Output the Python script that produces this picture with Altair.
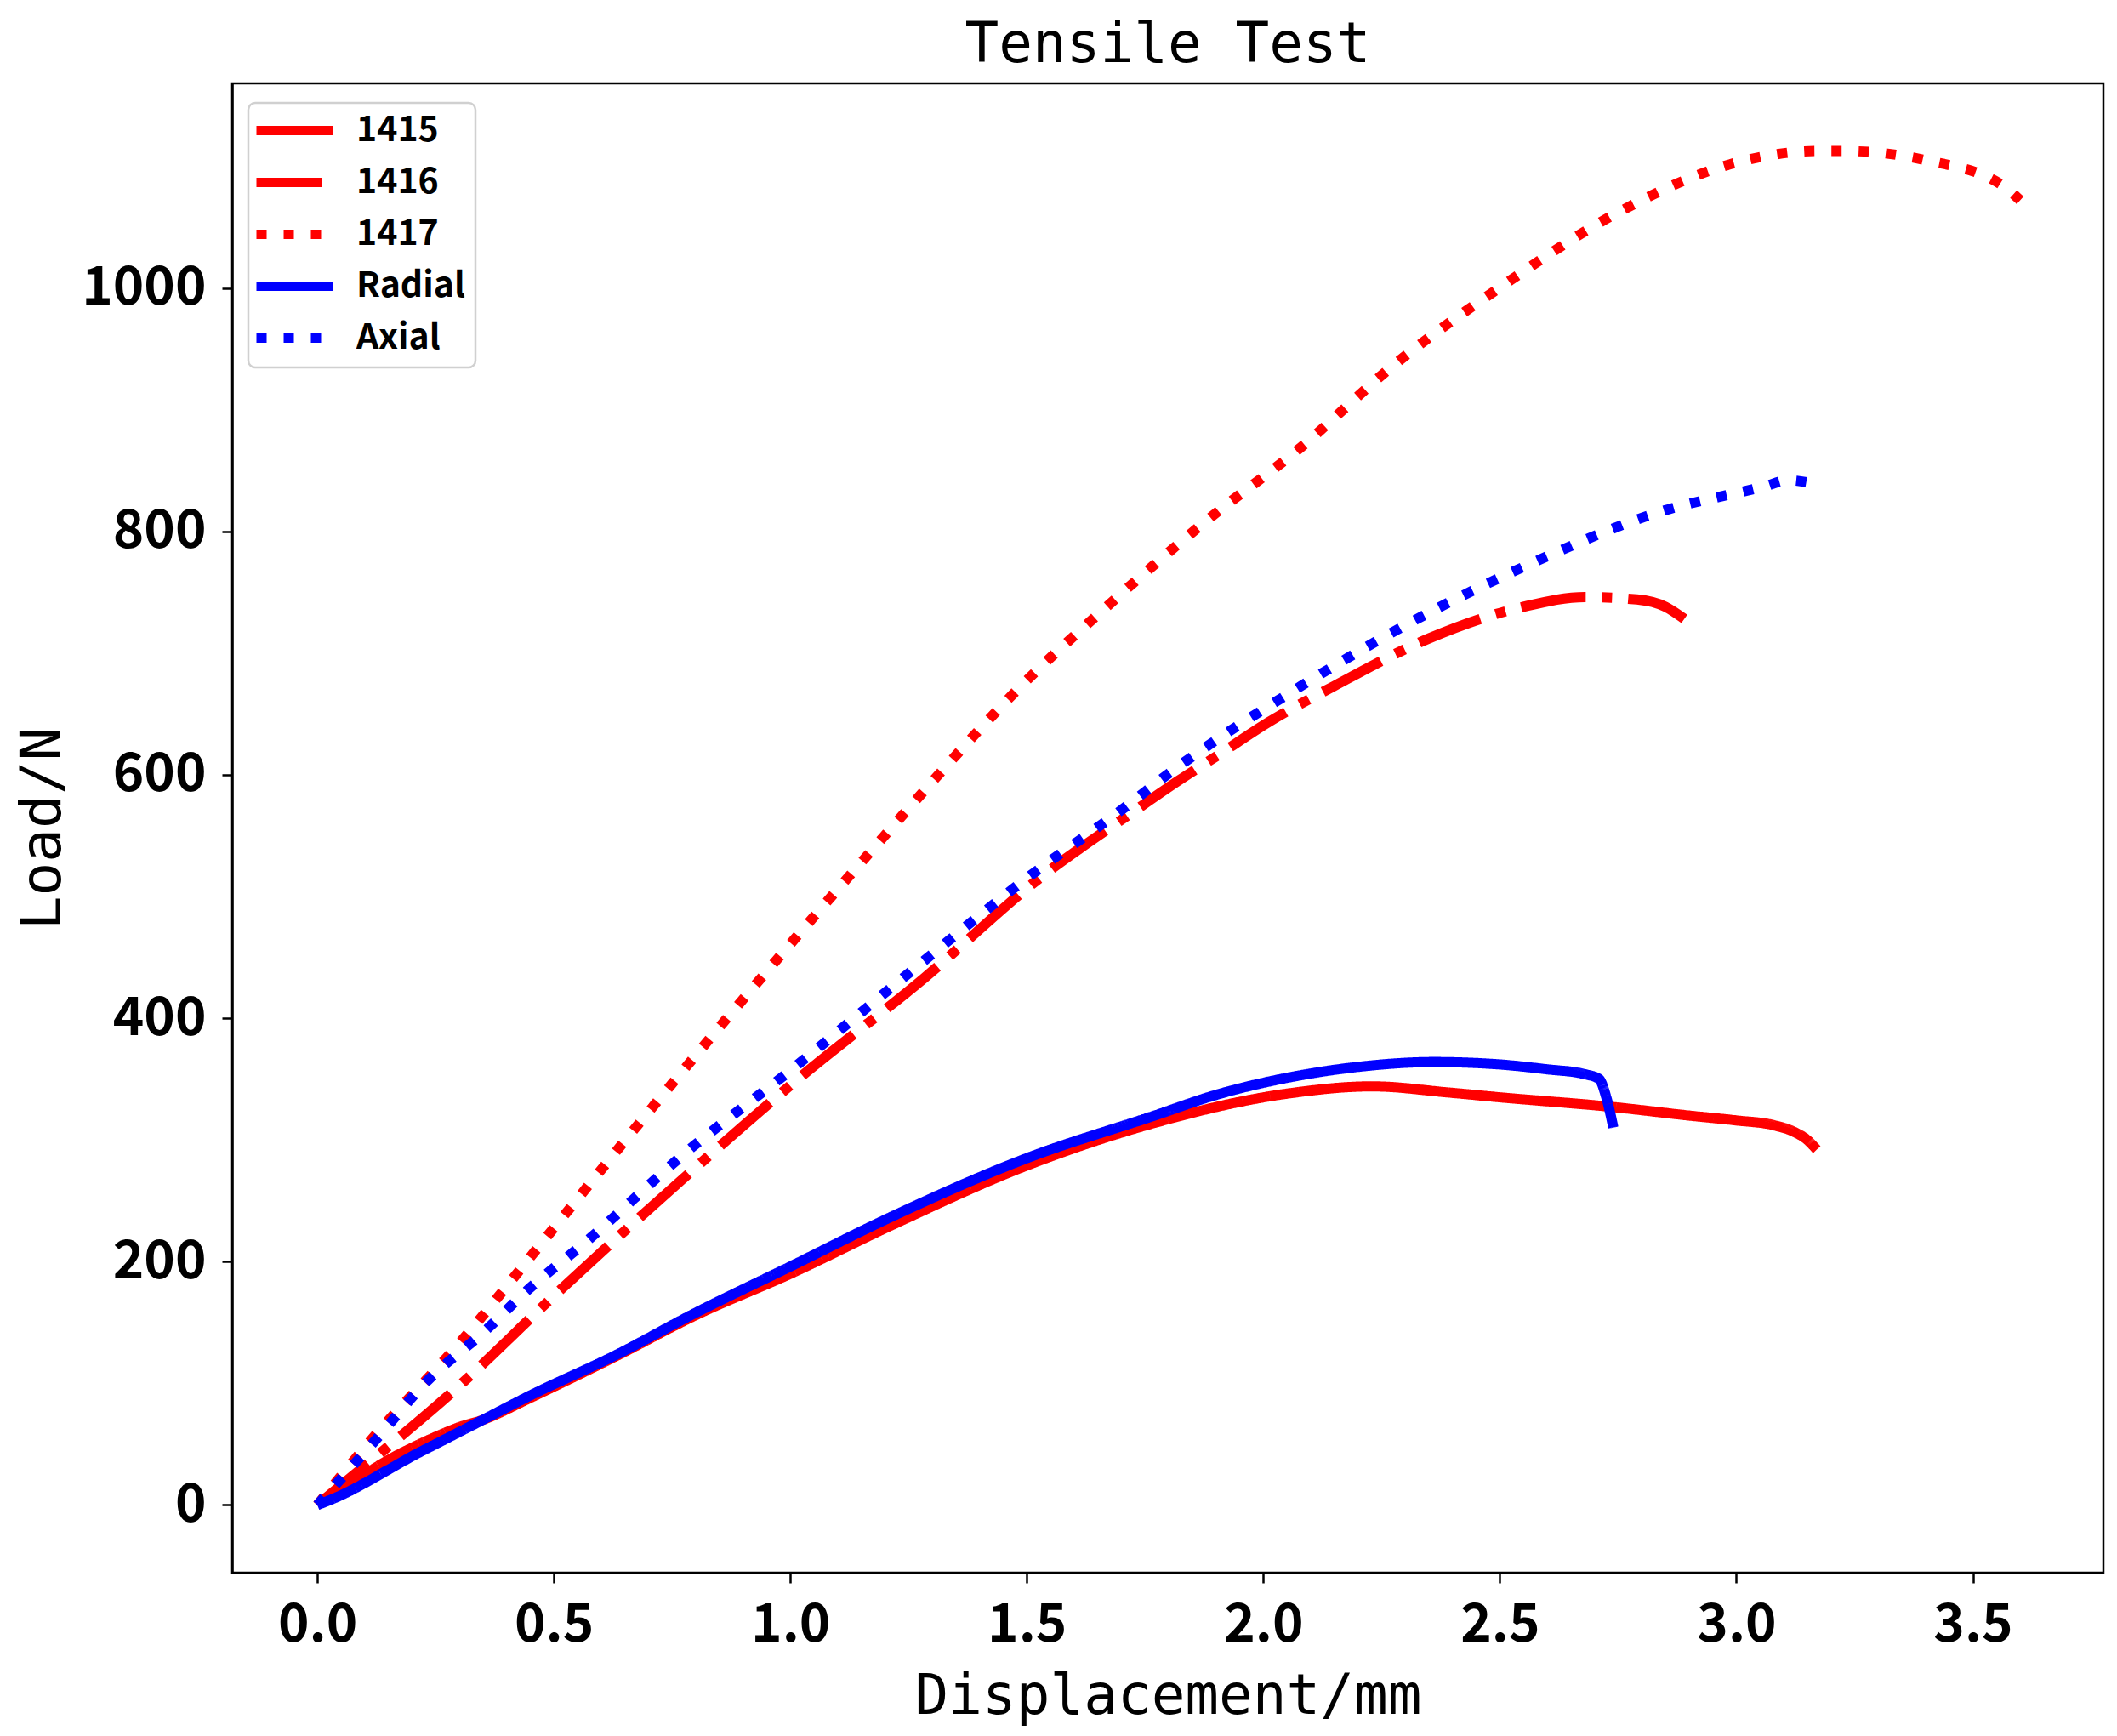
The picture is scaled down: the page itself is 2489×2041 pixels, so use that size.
import altair as alt
import pandas as pd

# ---- data ----
series_names = ["1415", "1416", "1417", "Radial", "Axial"]

x_1415 = [0, 0.05, 0.1, 0.15, 0.2, 0.25, 0.3, 0.35, 0.45, 0.63, 0.8, 1.0, 1.22, 1.5,
          1.77, 2.05, 2.23, 2.39, 2.5, 2.74, 2.9, 3.0, 3.08, 3.12, 3.15, 3.17]
y_1415 = [0, 12, 25, 37, 47, 56, 64, 70, 88, 122, 156, 190, 231, 279,
          314, 338, 344, 339, 335, 327, 320, 316, 312, 307, 300, 292]

x_1416 = [0, 0.1, 0.28, 0.52, 0.77, 1.01, 1.28, 1.53, 1.73, 1.82, 1.9, 2.01, 2.15,
          2.35, 2.55, 2.68, 2.79, 2.85, 2.89]
y_1416 = [0, 32, 91, 179, 267, 348, 432, 516, 571, 595, 615, 643, 673,
          712, 738, 746, 744, 738, 728]

x_1417 = [0, 0.115, 0.305, 0.48, 0.66, 0.84, 1.02, 1.17, 1.32, 1.47, 1.68, 1.89, 2.07,
          2.28, 2.51, 2.75, 3.0, 3.17, 3.23, 3.4, 3.56, 3.6]
y_1417 = [0, 54, 135, 218, 304, 388, 470, 537, 603, 666, 742, 812, 866,
          938, 1003, 1062, 1103, 1112.5, 1112.5, 1105, 1085, 1072]

x_radial = [0, 0.05, 0.1, 0.15, 0.2, 0.26, 0.35, 0.45, 0.63, 0.8, 1.0, 1.22, 1.5,
            1.77, 1.9, 2.05, 2.2, 2.36, 2.5, 2.6, 2.68, 2.71, 2.725, 2.74]
y_radial = [0, 8, 18, 29, 40, 52, 70, 90, 123, 158, 196, 238, 285,
            320, 337, 351, 360, 364, 362, 358, 354, 350, 335, 310]

x_axial = [0, 0.12, 0.23, 0.36, 0.44, 0.57, 0.78, 1.0, 1.26, 1.5, 1.71, 1.8, 2.08,
           2.32, 2.58, 2.83, 3.06, 3.11, 3.155]
y_axial = [0, 52, 101, 145, 175, 217, 290, 357, 440, 515, 574, 601, 673,
           727, 776, 815, 837, 842, 840]

x_ticks = [0, 0.5, 1.0, 1.5, 2.0, 2.5, 3.0, 3.5]
y_ticks = [0, 200, 400, 600, 800, 1000]

series_x = [x_1415, x_1416, x_1417, x_radial, x_axial]
series_y = [y_1415, y_1416, y_1417, y_radial, y_axial]

rows = []
for name, xs, ys in zip(series_names, series_x, series_y):
    for i, (xv, yv) in enumerate(zip(xs, ys)):
        rows.append({"series": name, "disp": xv, "load": yv, "i": i})
df = pd.DataFrame(rows)

color_scale = alt.Scale(domain=series_names,
                        range=["#ff0000", "#ff0000", "#ff0000", "#0000ff", "#0000ff"])
dash_scale = alt.Scale(domain=series_names,
                       range=[[1, 0], [77, 19, 12, 19], [12, 20], [1, 0], [12, 20]])

mono = "DejaVu Sans Mono"
sans = "Noto Sans CJK SC"

base = alt.Chart(df).mark_line(strokeWidth=12, interpolate="monotone", strokeCap="butt").encode(
    x=alt.X("disp:Q",
            scale=alt.Scale(domain=[-0.18, 3.776], nice=False, zero=False),
            axis=alt.Axis(values=x_ticks, format=".1f", title="Displacement/mm",
                          labelBaseline="alphabetic", labelPadding=68,
                          titleX=1100, titleY=165, titleBaseline="alphabetic",
                          titleAlign="center")),
    y=alt.Y("load:Q",
            scale=alt.Scale(domain=[-55.6, 1168.1], nice=False, zero=False),
            axis=alt.Axis(values=y_ticks, format="d", title="Load/N",
                          labelPadding=19,
                          titleX=-203, titleY=875.5, titleAngle=270,
                          titleBaseline="alphabetic", titleAlign="center")),
    color=alt.Color("series:N", scale=color_scale, legend=alt.Legend(title=None)),
    strokeDash=alt.StrokeDash("series:N", scale=dash_scale, legend=alt.Legend(title=None)),
    order=alt.Order("i:Q"),
)

layers = [base.transform_filter(alt.datum.series == s) for s in series_names]

chart = alt.layer(*layers).properties(
    width=2200,
    height=1751,
    title=alt.TitleParams("Tensile Test", font=mono, fontSize=66, fontWeight="normal",
                          anchor="middle", baseline="alphabetic", offset=-41, color="black"),
    autosize=alt.AutoSizeParams(type="none"),
    padding={"left": 265, "top": 90, "right": 8, "bottom": 184},
    background="white",
).configure_view(
    stroke="black", strokeWidth=2.5
).configure_axis(
    grid=False,
    domainColor="black", domainWidth=2.5,
    tickColor="black", tickWidth=2.5, tickSize=12,
    labelColor="black", labelFont=sans, labelFontWeight="bold", labelFontSize=62,
    titleColor="black", titleFont=mono, titleFontWeight="normal", titleFontSize=66,
).configure_legend(
    orient="none", legendX=19, legendY=23,
    strokeColor="#d0d0d0", strokeWidth=2.5, fillColor="white", cornerRadius=8,
    padding=12,
    symbolType="M-1,0H5", symbolSize=900, symbolStrokeWidth=11,
    symbolFillColor="transparent", symbolOffset=-8,
    labelFont=sans, labelFontWeight="bold", labelFontSize=41, labelColor="black",
    labelOffset=82, rowPadding=16,
)

chart.save("out.html", embed_options={"renderer": "svg", "actions": False})
